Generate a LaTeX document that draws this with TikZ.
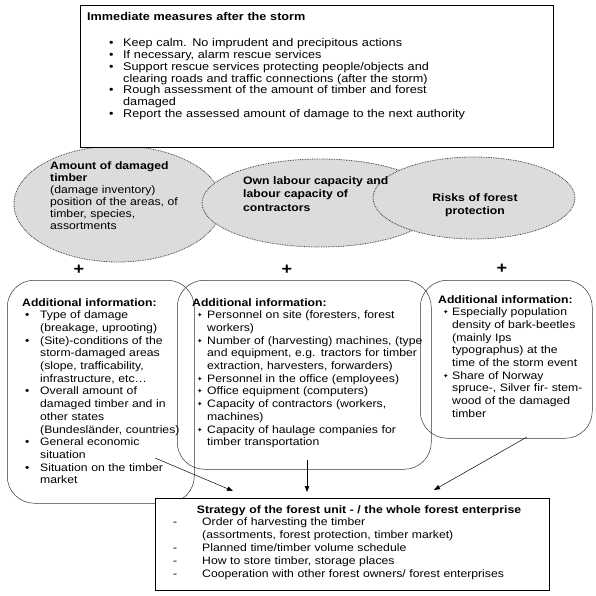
\documentclass[tikz,border=0pt]{standalone}
\usepackage{fontspec}
\setmainfont[FakeStretch=1.13]{Liberation Sans}
\newfontfamily\symfont{DejaVu Sans}
\usetikzlibrary{shapes.geometric,arrows.meta}
\definecolor{blobgray}{RGB}{220,220,220}
% bullets: indent, width of the bullet column
\newcommand{\rbul}[2]{\hspace*{#1}\makebox[#2][l]{•}}
\newcommand{\sbul}[2]{\hspace*{#1}\makebox[#2][l]{\raisebox{1pt}{\symfont\fontsize{6.5}{6.5}\selectfont ✦}}}
\newcommand{\dbul}[2]{\hspace*{#1}\makebox[#2][l]{-}}
\newcommand{\cont}[1]{\hspace*{#1}}

\begin{document}
\begin{tikzpicture}[x=1pt, y=-1pt,
  txt/.style={inner sep=0pt, anchor=base west, align=left, font=\fontsize{10.8}{12.7}\selectfont},
  blob/.style={ellipse, draw=black!75, line width=0.8pt, dash pattern=on 0.8pt off 0.9pt, fill=blobgray, inner sep=0pt},
  infobox/.style={draw=black!80, line width=0.5pt, rounded corners=27pt, inner sep=0pt, anchor=north west},
  plainbox/.style={draw, line width=0.8pt, fill=white, inner sep=0pt, anchor=north west},
  plus/.style={inner sep=0pt, font=\bfseries\fontsize{16}{16}\selectfont},
  arr/.style={-{Triangle[length=6pt,width=4.5pt]}, line width=0.5pt}]
  \useasboundingbox (0,0) rectangle (595,596);

  % the three topics
  \node (amount) [blob, minimum width=208pt, minimum height=116pt] at (118,204) {};
  \node (labour) [blob, minimum width=236pt, minimum height=88pt] at (320,203) {};
  \node (risks) [blob, minimum width=202pt, minimum height=82pt] at (474,198) {};

  \node (measures) [plainbox, minimum width=473pt, minimum height=142pt] at (80,5) {};
  \node (measurestxt) [txt, text width=460pt, font=\fontsize{11.2}{11.7}\selectfont] at (87,21) {%
    \textbf{Immediate measures after the storm}\\[14.3pt]
    \rbul{22pt}{14pt}Keep calm. No imprudent and precipitous actions\\
    \rbul{22pt}{14pt}If necessary, alarm rescue services\\
    \rbul{22pt}{14pt}Support rescue services protecting people/objects and\\
    \cont{36pt}clearing roads and traffic connections (after the storm)\\
    \rbul{22pt}{14pt}Rough assessment of the amount of timber and forest\\
    \cont{36pt}damaged\\
    \rbul{22pt}{14pt}Report the assessed amount of damage to the next authority};

  \node (amounttxt) [txt, text width=150pt, font=\fontsize{10.8}{12}\selectfont] at (50,169) {%
    \textbf{Amount of damaged}\\
    \textbf{timber}\\
    (damage inventory)\\
    position of the areas, of\\
    timber, species,\\
    assortments};
  \node (labourtxt) [txt, text width=170pt, font=\bfseries\fontsize{10.8}{13.5}\selectfont] at (243,184) {%
    Own labour capacity and\\
    labour capacity of\\
    contractors};
  \node (riskstxt) [txt, anchor=base, align=center, text width=120pt, font=\bfseries\fontsize{10.8}{13}\selectfont] at (475,201) {%
    Risks of forest\\
    protection};

  \node (plusa) [plus] at (79,270) {+};
  \node (plusb) [plus] at (287,270) {+};
  \node (plusc) [plus] at (502,269) {+};

  % additional information
  \node (infoamount) [infobox, minimum width=187pt, minimum height=223pt] at (7,280) {};
  \node (infolabour) [infobox, minimum width=254pt, minimum height=189pt] at (177,280) {};
  \node (inforisks) [infobox, minimum width=172pt, minimum height=158pt] at (420,280) {};

  \node (infoamounttxt) [txt, text width=180pt] at (22,306) {%
    \textbf{Additional information:}\\
    \rbul{3pt}{15pt}Type of damage\\
    \cont{18pt}(breakage, uprooting)\\
    \rbul{3pt}{15pt}(Site)-conditions of the\\
    \cont{18pt}storm-damaged areas\\
    \cont{18pt}(slope, trafficability,\\
    \cont{18pt}infrastructure, etc…\\
    \rbul{3pt}{15pt}Overall amount of\\
    \cont{18pt}damaged timber and in\\
    \cont{18pt}other states\\
    \cont{18pt}(Bundesländer, countries)\\
    \rbul{3pt}{15pt}General economic\\
    \cont{18pt}situation\\
    \rbul{3pt}{15pt}Situation on the timber\\
    \cont{18pt}market};
  \node (infolabourtxt) [txt, text width=240pt] at (192,306) {%
    \textbf{Additional information:}\\
    \sbul{5pt}{10pt}Personnel on site (foresters, forest\\
    \cont{15pt}workers)\\
    \sbul{5pt}{10pt}Number of (harvesting) machines, (type\\
    \cont{15pt}and equipment, e.g. tractors for timber\\
    \cont{15pt}extraction, harvesters, forwarders)\\
    \sbul{5pt}{10pt}Personnel in the office (employees)\\
    \sbul{5pt}{10pt}Office equipment (computers)\\
    \sbul{5pt}{10pt}Capacity of contractors (workers,\\
    \cont{15pt}machines)\\
    \sbul{5pt}{10pt}Capacity of haulage companies for\\
    \cont{15pt}timber transportation};
  \node (inforiskstxt) [txt, text width=150pt] at (438,303) {%
    \textbf{Additional information:}\\
    \sbul{5pt}{9pt}Especially population\\
    \cont{14pt}density of bark-beetles\\
    \cont{14pt}(mainly Ips\\
    \cont{14pt}typographus) at the\\
    \cont{14pt}time of the storm event\\
    \sbul{5pt}{9pt}Share of Norway\\
    \cont{14pt}spruce-, Silver fir- stem-\\
    \cont{14pt}wood of the damaged\\
    \cont{14pt}timber};

  % strategy
  \node (strategy) [plainbox, minimum width=394pt, minimum height=92pt] at (155,498) {};
  \node (strategytitle) [txt, anchor=base, align=center, text width=380pt, font=\bfseries\fontsize{10.8}{12.7}\selectfont] at (359,513) {%
    Strategy of the forest unit - / the whole forest enterprise};
  \node (strategytxt) [txt, text width=380pt, font=\fontsize{10.8}{13}\selectfont] at (170,525) {%
    \dbul{3pt}{29pt}Order of harvesting the timber\\
    \cont{32pt}(assortments, forest protection, timber market)\\
    \dbul{3pt}{29pt}Planned time/timber volume schedule\\
    \dbul{3pt}{29pt}How to store timber, storage places\\
    \dbul{3pt}{29pt}Cooperation with other forest owners/ forest enterprises};

  \coordinate (fromamount) at (155,458);
  \coordinate (tipamount) at (233,491);
  \coordinate (fromlabour) at (307,460);
  \coordinate (tiplabour) at (307,492);
  \coordinate (fromrisks) at (527,437);
  \coordinate (tiprisks) at (434,490);
  \draw [arr] (fromamount) -- (tipamount);
  \draw [arr] (fromlabour) -- (tiplabour);
  \draw [arr] (fromrisks) -- (tiprisks);
\end{tikzpicture}
\end{document}
